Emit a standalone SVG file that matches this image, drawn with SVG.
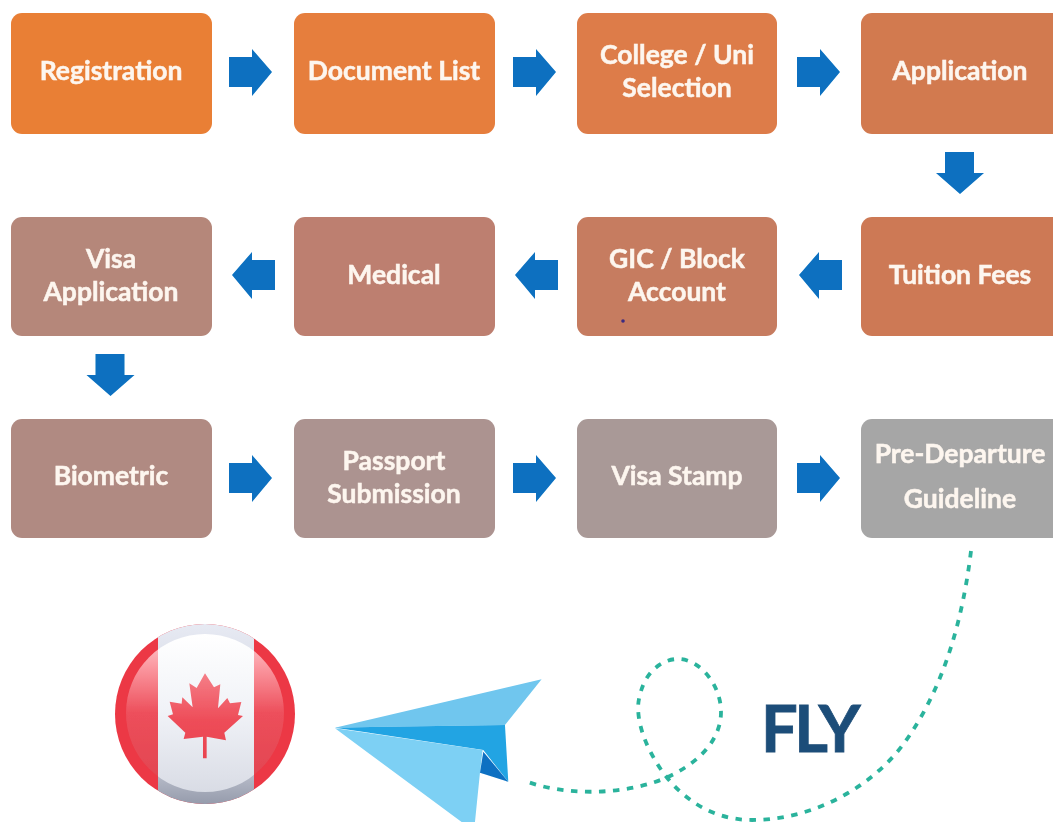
<svg xmlns="http://www.w3.org/2000/svg" width="1053" height="822" viewBox="0 0 1053 822">
<style>
.box{stroke:none}
.lbl{font-family:Lato,"Liberation Sans",sans-serif;font-weight:700;font-size:26.500px;fill:#fdf6ef;stroke:#fdf6ef;stroke-width:.5;text-anchor:middle}
.arw{fill:#0870c0}
.fly{font-family:Lato,"Open Sans","Liberation Sans",sans-serif;font-weight:700;font-size:65px;letter-spacing:-3.500px;fill:#1f4e79;stroke:#1f4e79;stroke-width:.8}
</style>
<defs>
<filter id="soft" x="-2%" y="-2%" width="104%" height="104%"><feGaussianBlur stdDeviation="0.55"/></filter>
<linearGradient id="bandOuter" x1="0" y1="0" x2="0" y2="1"><stop offset="0" stop-color="#e8ebf4"/><stop offset=".75" stop-color="#c4c8d4"/><stop offset="1" stop-color="#8f95a6"/></linearGradient>
<linearGradient id="redIn" x1="0" y1="0" x2="0" y2="1"><stop offset="0" stop-color="#fdd0d4"/><stop offset=".2" stop-color="#fb9aa2"/><stop offset=".5" stop-color="#ed4f5b"/><stop offset="1" stop-color="#e0434f"/></linearGradient>
<linearGradient id="whiteIn" x1="0" y1="0" x2="0" y2="1"><stop offset="0" stop-color="#ffffff"/><stop offset=".5" stop-color="#f0f2f7"/><stop offset="1" stop-color="#d9dce5"/></linearGradient>
<linearGradient id="leaf" x1="0" y1="0" x2="0" y2="1"><stop offset="0" stop-color="#f57f88"/><stop offset=".55" stop-color="#ee4d59"/><stop offset="1" stop-color="#e9434f"/></linearGradient>
<clipPath id="inner"><circle cx="205" cy="713" r="79"/></clipPath>
<clipPath id="outer"><circle cx="205" cy="714" r="90"/></clipPath>
<path id="ar" class="arw" d="M0 -15H23V-23L43 0L23 24V15H0Z"/>
<path id="al" class="arw" d="M43 -15H20V-23L0 0L20 24V15H43Z"/>
<path id="ad" class="arw" d="M-15 0H14V21H24L0 42L-24 21H-15Z"/>
</defs>
<rect width="1053" height="822" fill="#fff"/>
<g filter="url(#soft)">
<g id="n-registration"><rect class="box" x="11" y="13" width="201" height="121" rx="11" fill="#e97f35"/><text class="lbl" x="111" y="80">Registration</text></g>
<g id="n-document"><rect class="box" x="294" y="13" width="201" height="121" rx="11" fill="#e67e3d"/><text class="lbl" x="394" y="80">Document List</text></g>
<g id="n-college"><rect class="box" x="577" y="13" width="200" height="121" rx="11" fill="#dd7c48"/><text class="lbl" x="677" y="64">College / Uni</text><text class="lbl" x="677" y="97">Selection</text></g>
<g id="n-application"><rect class="box" x="861" y="13" width="204" height="121" rx="11" fill="#d27a50"/><text class="lbl" x="960" y="80">Application</text></g>

<g id="n-tuition"><rect class="box" x="861" y="217" width="204" height="119" rx="11" fill="#cd7954"/><text class="lbl" x="960" y="284">Tuition Fees</text></g>
<g id="n-gic"><rect class="box" x="577" y="217" width="200" height="119" rx="11" fill="#c67c60"/><text class="lbl" x="677" y="268">GIC / Block</text><text class="lbl" x="677" y="301">Account</text><circle cx="623" cy="321" r="1.8" fill="#3b2a80"/></g>
<g id="n-medical"><rect class="box" x="294" y="217" width="201" height="119" rx="11" fill="#bd7f70"/><text class="lbl" x="394" y="284">Medical</text></g>
<g id="n-visa-app"><rect class="box" x="11" y="217" width="201" height="119" rx="11" fill="#b5877a"/><text class="lbl" x="111" y="268">Visa</text><text class="lbl" x="111" y="301">Application</text></g>

<g id="n-biometric"><rect class="box" x="11" y="419" width="201" height="119" rx="11" fill="#b08a82"/><text class="lbl" x="111" y="485">Biometric</text></g>
<g id="n-passport"><rect class="box" x="294" y="419" width="201" height="119" rx="11" fill="#ac9390"/><text class="lbl" x="394" y="470">Passport</text><text class="lbl" x="394" y="503">Submission</text></g>
<g id="n-stamp"><rect class="box" x="577" y="419" width="200" height="119" rx="11" fill="#a99997"/><text class="lbl" x="677" y="485">Visa Stamp</text></g>
<g id="n-predeparture"><rect class="box" x="861" y="419" width="204" height="119" rx="11" fill="#a6a6a6"/><text class="lbl" x="960" y="463">Pre-Departure</text><text class="lbl" x="960" y="508">Guideline</text></g>

<g id="connectors">
<use href="#ar" x="229" y="72"/><use href="#ar" x="513" y="72"/><use href="#ar" x="797" y="72"/>
<use href="#ad" x="960" y="152"/>
<use href="#al" x="799" y="275"/><use href="#al" x="515" y="275"/><use href="#al" x="232" y="275"/>
<use href="#ad" x="110.500" y="354"/>
<use href="#ar" x="229" y="478"/><use href="#ar" x="513" y="478"/><use href="#ar" x="797" y="478"/>
<path d="M971 551C962 625 942 690 905 742C870 790 810 820 752 820C705 820 672 790 655 760C640 735 635 710 640 695C645 672 662 659 678 659C700 659 721 685 721 712C721 745 690 770 655 782C615 795 565 795 528 782" fill="none" stroke="#2bb39c" stroke-width="3.800" stroke-dasharray="6.500 7.500"/>
</g>

<g id="flag">
<circle cx="205" cy="714" r="90" fill="#ec3744"/>
<g clip-path="url(#outer)"><rect x="158" y="620" width="96" height="190" fill="url(#bandOuter)"/></g>
<g clip-path="url(#inner)">
<rect x="120" y="634" width="38" height="158" fill="url(#redIn)"/>
<rect x="254" y="634" width="34" height="158" fill="url(#redIn)"/>
<rect x="158" y="634" width="96" height="158" fill="url(#whiteIn)"/>
</g>
<polygon transform="translate(90 600) scale(.3333)" fill="url(#leaf)" points="345,220 372,262 391,253 384,325 412,294 420,310 454,306 444,345 459,348 403,398 408,421 350,410 350,475 339,475 339,410 281,417 286,398 233,348 249,343 239,305 275,311 277,292 308,322 298,250 320,264"/>
</g>

<g id="plane" transform="translate(90 600) scale(.3333)">
<polygon points="735,383 1355,238 1245,375" fill="#6fc6ee"/>
<polygon points="735,383 1245,375 1255,545 1180,450" fill="#22a4e3"/>
<polygon points="735,385 1178,450 1170,518 1155,666 1115,666" fill="#7dd0f4"/>
<polygon points="1180,455 1255,545 1170,518" fill="#0a6fc2"/>
</g>

<text class="fly" x="761" y="752">FLY</text>
</g>
</svg>
